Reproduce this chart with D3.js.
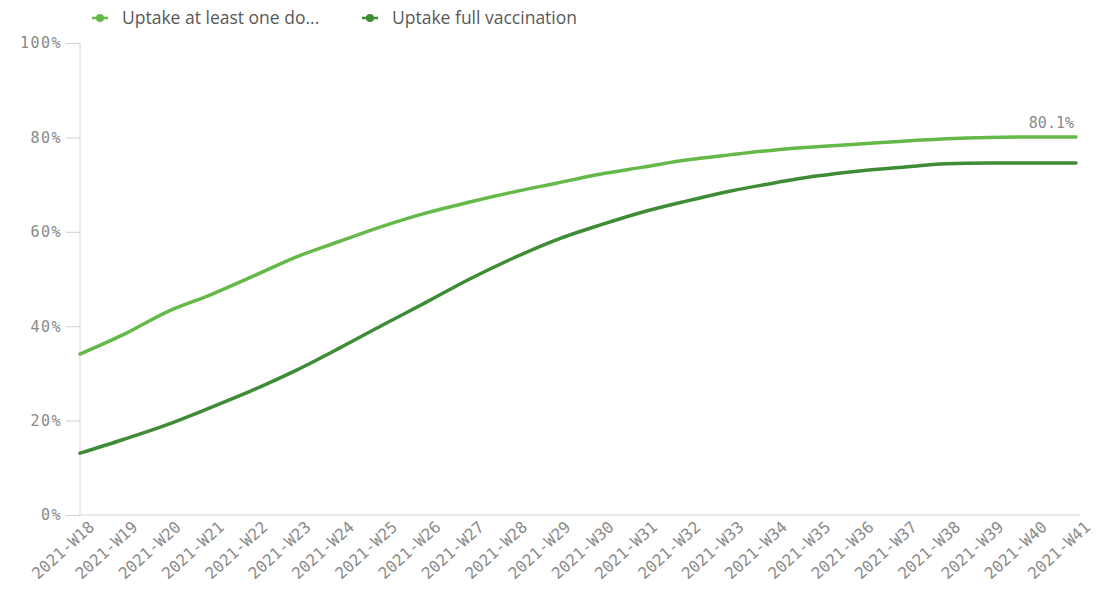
<!DOCTYPE html>
<html><head><meta charset="utf-8">
<script src="https://cdn.jsdelivr.net/npm/d3@7"></script>
<style>body{margin:0;background:#fff;}svg{display:block;}</style>
</head><body>
<svg id="c" width="1104" height="593"></svg>
<script>
const weeks = ["2021-W18","2021-W19","2021-W20","2021-W21","2021-W22","2021-W23","2021-W24","2021-W25","2021-W26","2021-W27","2021-W28","2021-W29","2021-W30","2021-W31","2021-W32","2021-W33","2021-W34","2021-W35","2021-W36","2021-W37","2021-W38","2021-W39","2021-W40","2021-W41"];
const atLeastOne = [34.1,38.2,43.0,46.6,50.6,54.7,58.0,61.2,64.0,66.3,68.4,70.3,72.2,73.7,75.2,76.3,77.3,78.0,78.6,79.2,79.7,80.0,80.1,80.1];
const fullVacc = [13.1,16.0,19.1,22.7,26.5,30.7,35.4,40.3,45.1,50.0,54.4,58.3,61.4,64.2,66.5,68.6,70.3,71.8,72.9,73.7,74.4,74.6,74.6,74.6];
const seriesNames = ["Uptake at least one do...","Uptake full vaccination"];
const colors = ["#64b949","#3f8c36"];
const yTicks = [0,20,40,60,80,100];

const svg = d3.select("#c");
const x = d3.scalePoint().domain(weeks).range([80,1076]);
const y = d3.scaleLinear().domain([0,100]).range([515,43]);
const mono = "DejaVu Sans Mono, monospace";

// y axis
const ya = svg.append("g").attr("transform","translate(80,0)")
  .call(d3.axisLeft(y).tickValues(yTicks).tickFormat(d=>d+"%").tickSize(14).tickPadding(4));
ya.select(".domain").attr("stroke","#d6d6d6").attr("d","M0,43V515");
ya.selectAll(".tick line").attr("stroke","#d0d0d0");
ya.selectAll("text").attr("fill","#8a8a8a").style("font-family",mono).style("font-size","15px").style("letter-spacing","1.5px");

// x axis
const xa = svg.append("g").attr("transform","translate(0,515)")
  .call(d3.axisBottom(x).tickSize(0).tickPadding(0));
xa.select(".domain").attr("stroke","#d6d6d6").attr("d","M80,0H1080");
xa.selectAll("text").attr("fill","#8a8a8a").style("font-family",mono).style("font-size","16px")
  .attr("text-anchor","end").attr("x",2).attr("y",20).attr("dy",0).attr("transform","rotate(-42)");

const line = d3.line().x((d,i)=>x(weeks[i])).y(d=>y(d)).curve(d3.curveMonotoneX);
[atLeastOne, fullVacc].forEach((s,k)=>{
  svg.append("path").datum(s).attr("d",line).attr("fill","none")
    .attr("stroke",colors[k]).attr("stroke-width",3.5).attr("stroke-linecap","round");
});

// end label
const last = atLeastOne[atLeastOne.length-1];
svg.append("text").attr("x",x(weeks[weeks.length-1])-2).attr("y",y(last)-9)
  .attr("text-anchor","end").attr("fill","#8a8a8a")
  .style("font-family",mono).style("font-size","15px").text(last.toFixed(1)+"%");

// legend
const legX = [92, 362];
seriesNames.forEach((n,k)=>{
  const g = svg.append("g").attr("transform",`translate(${legX[k]},18)`);
  g.append("line").attr("x1",0).attr("x2",16).attr("y1",0).attr("y2",0).attr("stroke",colors[k]).attr("stroke-width",2.5);
  g.append("circle").attr("cx",8).attr("cy",0).attr("r",4).attr("fill",colors[k]);
  g.append("text").attr("x",30).attr("y",6).attr("fill","#595959")
    .style("font-family","Open Sans, sans-serif").style("font-size","17.5px").text(n);
});
</script>
</body></html>
